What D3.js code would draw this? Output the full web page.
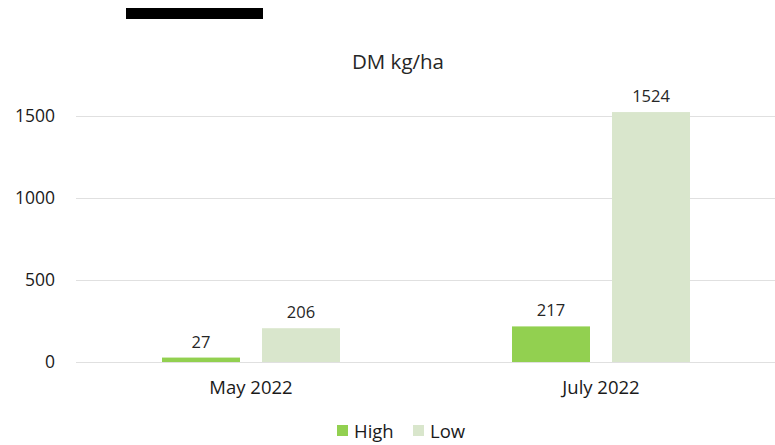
<!DOCTYPE html>
<html>
<head>
<meta charset="utf-8">
<script src="https://cdn.jsdelivr.net/npm/d3@7"></script>
<style>
  html, body { margin: 0; padding: 0; background: #fff; }
  svg { display: block; font-family: "Open Sans", "Noto Sans", sans-serif; }
</style>
</head>
<body>
<svg id="chart" width="775" height="445"></svg>
<script>
// Dry matter yield by sampling date and grazing level
const categories = ["May 2022", "July 2022"];
const seriesNames = ["High", "Low"];
const highValues = [27, 217];
const lowValues = [206, 1524];
const yTicks = [0, 500, 1000, 1500];
const seriesColors = ["#92d050", "#d9e6cc"];

const FONT = "\"Open Sans\", \"Noto Sans\", sans-serif";
const svg = d3.select("#chart");
const plot = { left: 76, right: 776, top: 116, bottom: 362 };

const x0 = d3.scaleBand().domain(categories).range([plot.left, plot.right]).padding(0);
const x1 = d3.scaleBand().domain(seriesNames).range([-89, 89]).paddingInner(0.22).paddingOuter(0);
const y = d3.scaleLinear().domain([0, 1500]).range([plot.bottom, plot.top]);

// Redaction block above the title
svg.append("rect").attr("x", 126).attr("y", 8).attr("width", 137).attr("height", 11).attr("fill", "#000");

// Title
svg.append("text").attr("x", 398).attr("y", 69).attr("text-anchor", "middle")
  .attr("font-size", 20.5).attr("fill", "#262626").text("DM kg/ha");

// Gridlines + y labels
const yAxis = d3.axisLeft(y).tickValues(yTicks).tickFormat(d3.format("d"))
  .tickSize(-(plot.right - plot.left)).tickPadding(21);
const gy = svg.append("g").attr("transform", `translate(${plot.left},0)`).call(yAxis);
gy.select(".domain").remove();
gy.selectAll(".tick line").attr("stroke", "#e0e0e0").attr("stroke-width", 1);
gy.selectAll(".tick text").attr("font-size", 17.5).attr("fill", "#1a1a1a").attr("font-family", FONT);

// x labels
const xAxis = d3.axisBottom(x0).tickSize(0).tickPadding(19);
const gx = svg.append("g").attr("transform", `translate(0,${plot.bottom})`).call(xAxis);
gx.select(".domain").remove();
gx.selectAll(".tick text").attr("font-size", 18.5).attr("fill", "#1a1a1a").attr("font-family", FONT);

// Bars
const rows = categories.map((c, i) => ({ cat: c, vals: [highValues[i], lowValues[i]] }));
const groups = svg.append("g").selectAll("g").data(rows).join("g")
  .attr("transform", d => `translate(${x0(d.cat) + x0.bandwidth() / 2},0)`);

groups.selectAll("rect").data(d => d.vals.map((v, j) => ({ s: seriesNames[j], v, j })))
  .join("rect")
  .attr("x", d => x1(d.s))
  .attr("width", x1.bandwidth())
  .attr("y", d => y(d.v))
  .attr("height", d => y(0) - y(d.v))
  .attr("fill", d => seriesColors[d.j]);

groups.selectAll("text.val").data(d => d.vals.map((v, j) => ({ s: seriesNames[j], v, j })))
  .join("text").attr("class", "val")
  .attr("x", d => x1(d.s) + x1.bandwidth() / 2)
  .attr("y", d => y(d.v) - 10)
  .attr("text-anchor", "middle")
  .attr("font-size", 16.5).attr("fill", "#262626")
  .text(d => d.v);

// Legend
const legendX = [337, 413];
const leg = svg.append("g").selectAll("g").data(seriesNames).join("g")
  .attr("transform", (d, i) => `translate(${legendX[i]},0)`);
leg.append("rect").attr("x", 0).attr("y", 425).attr("width", 11).attr("height", 11)
  .attr("fill", (d, i) => seriesColors[i]);
leg.append("text").attr("x", 17).attr("y", 438).attr("font-size", 18.5).attr("fill", "#1a1a1a").text(d => d);
</script>
</body>
</html>
